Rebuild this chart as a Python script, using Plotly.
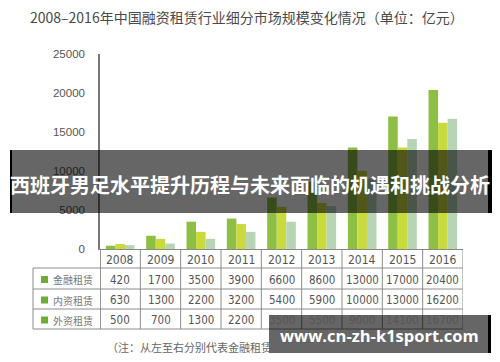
import plotly.graph_objects as go

years = ["2008", "2009", "2010", "2011", "2012", "2013", "2014", "2015", "2016"]
series_names = ["金融租赁", "内资租赁", "外资租赁"]
finance_lease = [420, 1700, 3500, 3900, 6600, 8600, 13000, 17000, 20400]
domestic_lease = [630, 1300, 2200, 3200, 5400, 5900, 10000, 13000, 16200]
foreign_lease = [500, 700, 1300, 2200, 3500, 5500, 9000, 14100, 16700]
y_ticks = [0, 5000, 10000, 15000, 20000, 25000]

title_text = "2008–2016年中国融资租赁行业细分市场规模变化情况（单位：亿元）"
note_text = "（注：从左至右分别代表金融租赁、内资租赁、外资租赁。）"
banner_text = "西班牙男足水平提升历程与未来面临的机遇和挑战分析"
watermark_text = "www.cn-zh-k1sport.com"

W, H = 500, 362
L, R, T, B = 100, 463, 54, 249  # plot area in pixels


def px(x):
    return (x - L) / (R - L)


def py(y):
    return (B - y) / (B - T)


colors = ["#8dbf45", "#c8da3c", "#b7d5b5"]
all_series = [finance_lease, domestic_lease, foreign_lease]

fig = go.Figure()
for name, vals, c in zip(series_names, all_series, colors):
    fig.add_trace(go.Bar(x=years, y=vals, name=name, marker=dict(color=c, line=dict(width=0))))

CJK = "Noto Sans CJK SC"
NUM = "Liberation Sans, Arial, sans-serif"
NARROW = "Liberation Sans Narrow, Arial Narrow, DejaVu Sans Condensed, sans-serif"

shapes = []
annotations = []


def ann(**kw):
    kw.setdefault("showarrow", False)
    kw.setdefault("xanchor", "center")
    kw.setdefault("yanchor", "middle")
    annotations.append(kw)


# table lines
line_col = "#8c8c8c"
row_lines = [268, 289, 309, 329]
for yy in row_lines:
    shapes.append(dict(type="line", xref="paper", yref="paper", x0=px(33), x1=1, y0=py(yy), y1=py(yy),
                       line=dict(color=line_col, width=1)))
for i in range(len(years) + 1):
    shapes.append(dict(type="line", xref="x", yref="paper", x0=i - 0.5, x1=i - 0.5, y0=0, y1=py(329),
                       line=dict(color=line_col if i > 0 else "#777", width=1 if i > 0 else 1.5)))
shapes.append(dict(type="line", xref="paper", yref="paper", x0=px(33), x1=px(33), y0=py(268), y1=py(329),
                   line=dict(color=line_col, width=1)))

# header years
for i, y in enumerate(years):
    ann(x=i, y=py(259.5), xref="x", yref="paper", text=y, font=dict(family=NARROW, size=12, color="#555"))
# value rows
row_centers = [279.5, 300, 320]
for name, vals, yc in zip(series_names, all_series, row_centers):
    for i, v in enumerate(vals):
        ann(x=i, y=py(yc), xref="x", yref="paper", text=str(v), font=dict(family=NARROW, size=11.5, color="#555"))
    shapes.append(dict(type="rect", xref="paper", yref="paper", x0=px(41), x1=px(48),
                       y0=py(yc + 3.5), y1=py(yc - 3.5), fillcolor="#6aae35", line=dict(width=0)))
    ann(x=px(51), y=py(yc), xref="paper", yref="paper", text=name, xanchor="left",
        font=dict(family=CJK, size=10, color="#777"))

# title
ann(x=px(247), y=py(17), xref="paper", yref="paper", text=title_text, font=dict(family=CJK, size=14, color="#4a4a4a"))
# note
ann(x=px(105), y=py(347), xref="paper", yref="paper", text=note_text, xanchor="left",
    font=dict(family=CJK, size=11, color="#666"))

# banner overlay
shapes.append(dict(type="rect", xref="paper", yref="paper", x0=px(10), x1=px(492), y0=py(213), y1=py(150),
                   fillcolor="rgba(0,0,0,0.6)", line=dict(width=0), layer="above"))
shapes.append(dict(type="rect", xref="paper", yref="paper", x0=px(10), x1=px(12), y0=py(213), y1=py(150),
                   fillcolor="#000", line=dict(width=0), layer="above"))
shapes.append(dict(type="rect", xref="paper", yref="paper", x0=px(488), x1=px(492), y0=py(213), y1=py(150),
                   fillcolor="#000", line=dict(width=0), layer="above"))
ann(x=px(250), y=py(184), xref="paper", yref="paper", text="<b>" + banner_text + "</b>",
    font=dict(family=CJK, size=20, color="#fff"))

# watermark
shapes.append(dict(type="rect", xref="paper", yref="paper", x0=px(269), x1=px(491), y0=py(353), y1=py(315),
                   fillcolor="rgba(0,0,0,0.6)", line=dict(width=0), layer="above"))
shapes.append(dict(type="rect", xref="paper", yref="paper", x0=px(488), x1=px(491), y0=py(353), y1=py(315),
                   fillcolor="#000", line=dict(width=0), layer="above"))
ann(x=px(379), y=py(335), xref="paper", yref="paper", text="<b>" + watermark_text + "</b>",
    font=dict(family="Open Sans", size=16.5, color="#fff"))

fig.update_layout(
    width=W, height=H,
    margin=dict(l=L, r=W - R, t=T, b=H - B, pad=0),
    paper_bgcolor="white", plot_bgcolor="white",
    barmode="group", bargap=0.29, bargroupgap=0,
    showlegend=False,
    shapes=shapes, annotations=annotations,
    xaxis=dict(type="category", range=[-0.5, 8.5], showticklabels=False, showgrid=False, zeroline=False,
               showline=True, linecolor="#888", linewidth=1, ticks=""),
    yaxis=dict(range=[0, 25000], tickvals=y_ticks, ticktext=[str(v) for v in y_ticks],
               showgrid=False, zeroline=False, showline=True, linecolor="#777", linewidth=1.5,
               ticks="", ticklabelstandoff=11,
               tickfont=dict(family=NUM, size=11.5, color="#555")),
)

fig.write_html("out.html", config={"displayModeBar": False},
               post_script="document.body.style.margin='0';")
